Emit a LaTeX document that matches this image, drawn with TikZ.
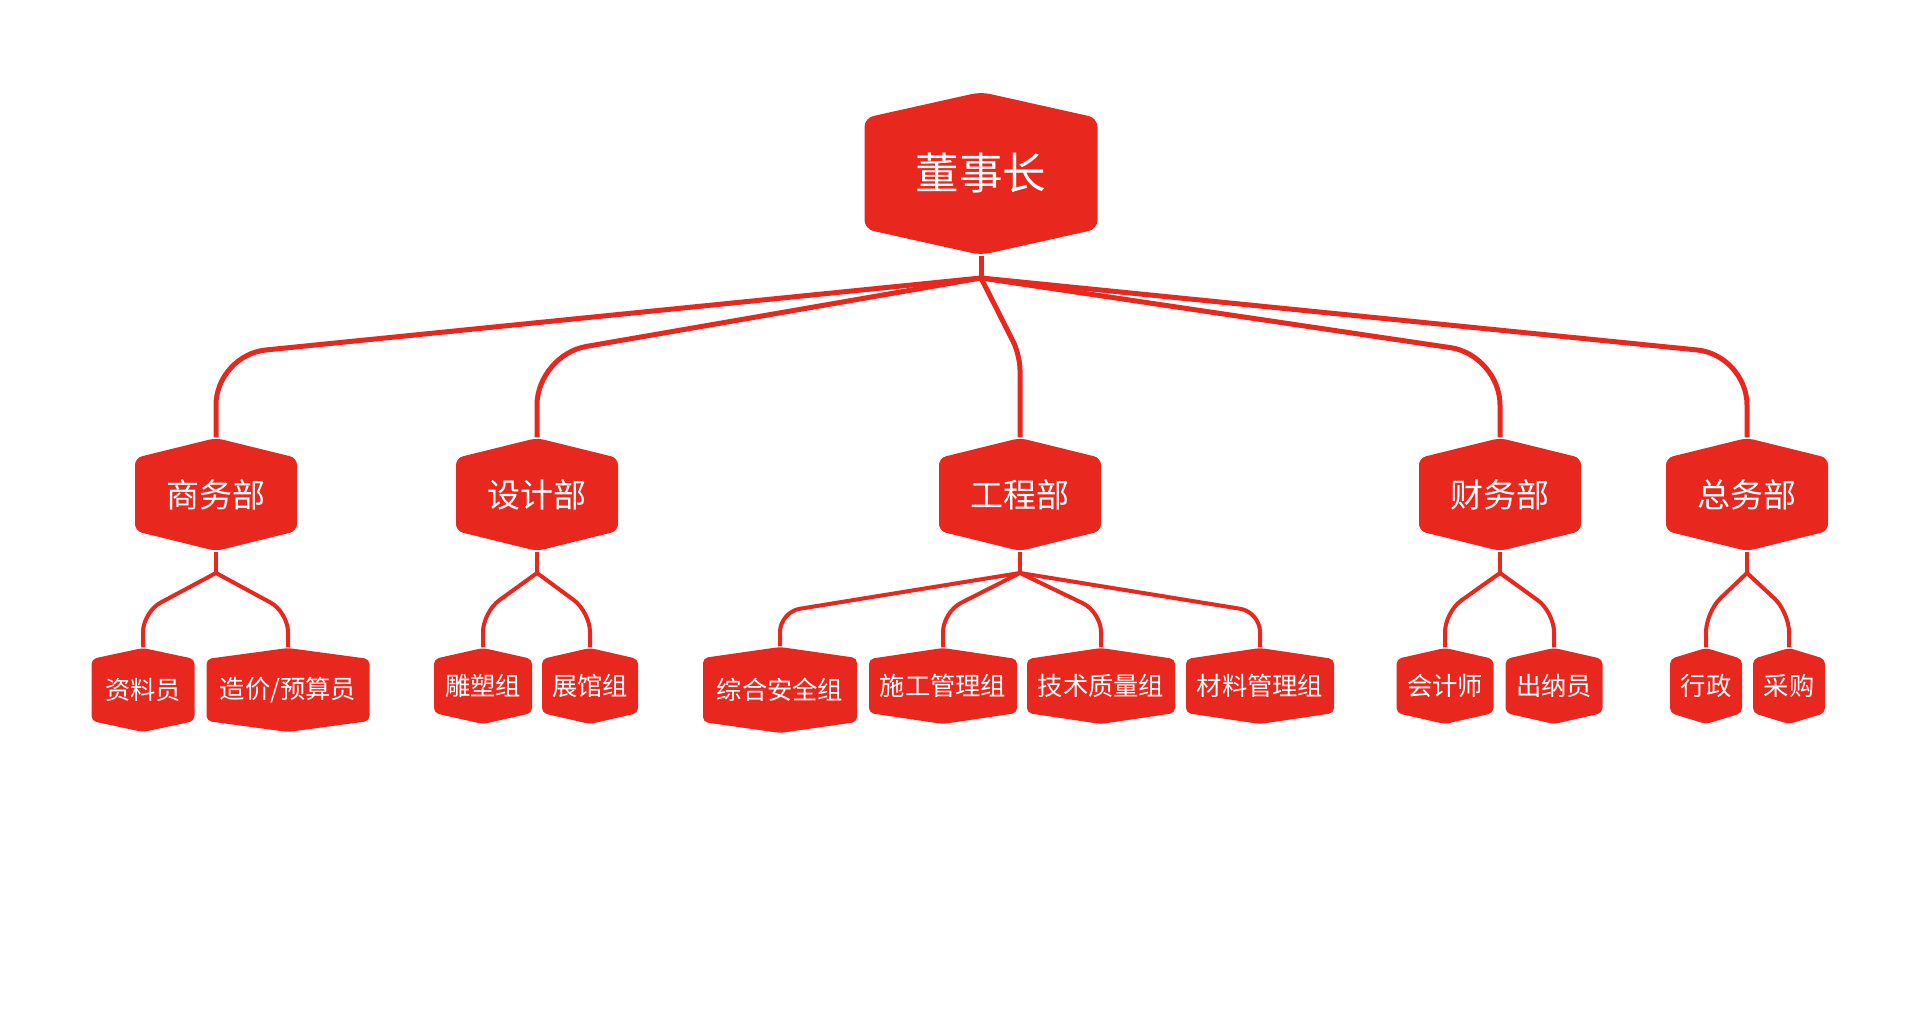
\documentclass[tikz,border=0pt]{standalone}
\usepackage{fontspec}
\newfontfamily\cjk{Noto Sans CJK SC}
\definecolor{orgred}{RGB}{232,40,30}
\tikzset{
  hexa/.style={fill=orgred, rounded corners=#1},
  box/.style={inner sep=0pt, text=white},
  link/.style={draw=orgred, line width=0.5mm, rounded corners=#1},
  link/.default=5mm,
  sublink/.style={draw=orgred, line width=0.4mm, rounded corners=2mm}
}
\begin{document}
\begin{tikzpicture}[x=0.1mm,y=-0.1mm]
\useasboundingbox[fill=white] (0,0) rectangle (1920,1016);

\fill[hexa=0.9mm] (864.5,118) -- (981,92) -- (1097.5,118) -- (1097.5,229) -- (981,255) -- (864.5,229) -- cycle;
\node(ceo) [box,font=\cjk\fontsize{12.4}{14}\selectfont,minimum width=23.3mm,minimum height=16.3mm] at (981,173.5) {董事长};

\foreach \n/\x/\lbl in {sw/216/商务部, sj/537/设计部, gc/1020/工程部, cw/1500/财务部, zw/1747/总务部}{
  \fill[hexa=0.7mm] ({\x-81},458) -- (\x,438) -- ({\x+81},458) -- ({\x+81},531) -- (\x,551) -- ({\x-81},531) -- cycle;
  \node(\n) [box,font=\cjk\fontsize{9.4}{11}\selectfont,minimum width=16.2mm,minimum height=11.3mm] at (\x,494.5) {\lbl};
}

\foreach \n/\x/\y/\w/\h/\lbl in {za/143/690/51.5/42/资料员, zj/288/690/81.5/42/{造价/预算员},
    ds/483/686/49/38/雕塑组, zg/590/686/48/38/展馆组,
    aq/780/690/77/43/综合安全组, sg/943/686/74/38/施工管理组, js/1101/686/74/38/技术质量组, cl/1260/686/74/38/材料管理组,
    kj/1445/686/48.5/38/会计师, cn/1554/686/48.5/38/出纳员, xz/1706/686/36/38/行政, cg/1789/686/36/38/采购}{
  \fill[hexa=0.5mm] ({\x-\w},{\y-\h+11}) -- (\x,{\y-\h}) -- ({\x+\w},{\y-\h+11}) -- ({\x+\w},{\y+\h-11}) -- (\x,{\y+\h}) -- ({\x-\w},{\y+\h-11}) -- cycle;
  \node(\n) [box,font=\cjk\fontsize{7.2}{9}\selectfont,minimum width={0.2mm*\w},minimum height={0.2mm*\h}] at (\x,\y) {\lbl};
}

\coordinate(hub) at (981,278);
\coordinate(bend) at (0,355);
\coordinate(split) at (0,573);
\coordinate(knee) at (0,612);

\draw[link] (ceo.south) -- (hub);
\foreach \n in {sw,sj,cw,zw}
  \draw[link] (hub) -- (bend -| \n.north) -- (\n.north);
\draw[link=1.5mm] (hub) -- (bend -| gc.north) -- (gc.north);

\foreach \p/\kids in {sw/{za,zj}, sj/{ds,zg}, gc/{aq,sg,js,cl}, cw/{kj,cn}, zw/{xz,cg}}{
  \draw[sublink] (\p.south) -- (split -| \p.south);
  \foreach \k in \kids
    \draw[sublink] (split -| \p.south) -- (knee -| \k.north) -- (\k.north);
}
\end{tikzpicture}
\end{document}
